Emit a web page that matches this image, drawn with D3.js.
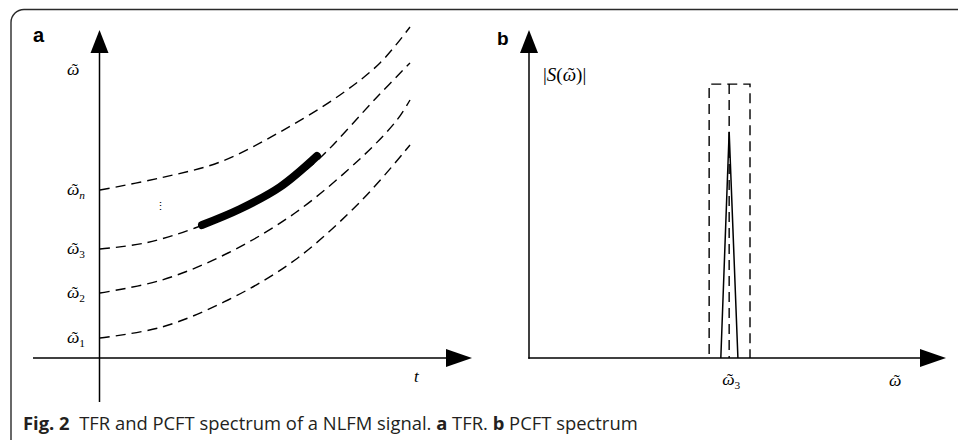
<!DOCTYPE html>
<html>
<head>
<meta charset="utf-8">
<script src="https://cdn.jsdelivr.net/npm/d3@7"></script>
<style>
  html, body { margin: 0; padding: 0; background: #fff; }
  svg { display: block; }
  .math { font-family: "Liberation Serif", "Times New Roman", "DejaVu Serif", serif; }
</style>
</head>
<body>
<svg id="chart" width="958" height="440"></svg>
<script>
// ---------------- DATA ----------------
// Panel a: time–frequency curves, [t, omega] in arbitrary units
const curveOmega1 = [[0,10],[31,15.5],[64,29],[97.5,49],[131,79],[155,106.5]];
const curveOmega2 = [[0,32.5],[31,39],[64,52.5],[97.5,72.5],[131,100.5],[148.5,119],[155,129]];
const curveOmega3 = [[0,54.5],[22.5,57.5],[47.5,65],[77.5,78],[97.5,90],[110,100],[139,131],[155,147.5]];
const curveOmegaN = [[0,84],[30,90],[60,98],[90,113],[120,131.5],[140,147.5],[155,165.5]];
const signalTrack = [[51,66.5],[70,74.5],[90,85.5],[108.5,101]];
const yTickValues = [10, 32.5, 54.5, 84];
const yTickSubs   = ["1", "2", "3", "n"];

// Panel b: PCFT spectrum, [omega, |S|]
const spectrum = [[4.60,0],[4.80,6.9],[5.01,0]];
const windowLeft = 4.32, windowRight = 5.30, windowTop = 8.35, windowCenter = 4.80;
const xTickValueB = 4.80;

const captionBold = "Fig. 2";
const captionText = "TFR and PCFT spectrum of a NLFM signal. ";

// ---------------- DRAWING ----------------
const svg = d3.select("#chart");

svg.append("path")
  .attr("d", "M958,9.5 H24 A13 13 0 0 0 11 22.5 V440")
  .attr("fill", "none").attr("stroke", "#2a2a2a").attr("stroke-width", 1.4);

function arrowUp(x, y) {
  svg.append("path").attr("d", `M${x},${y} L${x-9},${y+23} L${x+9},${y+23} Z`).attr("fill", "#000");
}
function arrowRight(x, y) {
  svg.append("path").attr("d", `M${x},${y} L${x-26},${y-9} L${x-26},${y+9} Z`).attr("fill", "#000");
}
// omega with a tilde glyph placed over it (same text element), optional subscript
function omegaLabel(g, x, y, size, sub, subItalic) {
  const t = g.append("text").attr("class", "math").attr("x", x).attr("y", y).attr("font-size", size);
  const w = t.append("tspan").attr("font-style", "italic").text("\u03C9");
  const wW = w.node().getComputedTextLength();
  const tl = t.append("tspan").text("\u02DC");
  const tW = tl.node().getComputedTextLength();
  tl.attr("dx", -(wW / 2 + tW / 2) + 1.5);
  if (sub) {
    t.append("tspan").attr("font-size", size * 0.65).attr("dx", wW / 2 - tW / 2 - 1.5)
      .attr("dy", size * 0.25).attr("font-style", subItalic ? "italic" : "normal").text(sub);
  }
  return t;
}

// ---- Panel a ----
const xA = d3.scaleLinear().domain([0, 155]).range([100, 410]);
const yA = d3.scaleLinear().domain([0, 164]).range([358, 30]);

const gA = svg.append("g");
gA.append("line").attr("x1", xA(0)-0.5).attr("x2", xA(0)-0.5).attr("y1", yA(164)+10).attr("y2", 402)
  .attr("stroke", "#000").attr("stroke-width", 1.5);
gA.append("line").attr("x1", 33).attr("x2", 455).attr("y1", yA(0)).attr("y2", yA(0))
  .attr("stroke", "#000").attr("stroke-width", 1.5);
arrowUp(xA(0)-0.5, yA(164));
arrowRight(472, yA(0));

const lineA = d3.line().x(d => xA(d[0])).y(d => yA(d[1])).curve(d3.curveCatmullRom.alpha(0.5));
[curveOmega1, curveOmega2, curveOmega3, curveOmegaN].forEach(c => {
  gA.append("path").attr("d", lineA(c)).attr("fill", "none")
    .attr("stroke", "#000").attr("stroke-width", 1.4).attr("stroke-dasharray", "10,6");
});
gA.append("path").attr("d", lineA(signalTrack)).attr("fill", "none")
  .attr("stroke", "#000").attr("stroke-width", 8).attr("stroke-linecap", "round");

yTickValues.forEach((v, i) => {
  omegaLabel(gA, 67, yA(v) + 5, 17.5, yTickSubs[i], yTickSubs[i] === "n");
});
omegaLabel(gA, 67, 75, 17.5, null, false);
gA.append("text").attr("class", "math").attr("x", 414).attr("y", 382)
  .attr("font-size", 17).attr("font-style", "italic").text("t");
gA.append("text").attr("class", "math").attr("x", 160).attr("y", 210).attr("text-anchor", "middle")
  .attr("font-size", 11).text("\u22EE");
gA.append("text").attr("x", 33).attr("y", 42).attr("font-family", "'Liberation Sans', Arial, sans-serif")
  .attr("font-weight", "bold").attr("font-size", 20).text("a");

// ---- Panel b ----
const xB = d3.scaleLinear().domain([0, 10]).range([529, 946]);
const yB = d3.scaleLinear().domain([0, 10]).range([358, 30]);
const gB = svg.append("g");
gB.append("line").attr("x1", xB(0)).attr("x2", xB(0)).attr("y1", yB(10)+10).attr("y2", yB(0)+0.7)
  .attr("stroke", "#000").attr("stroke-width", 1.5);
gB.append("line").attr("x1", xB(0)-0.7).attr("x2", 930).attr("y1", yB(0)).attr("y2", yB(0))
  .attr("stroke", "#000").attr("stroke-width", 1.5);
arrowUp(xB(0), yB(10));
arrowRight(xB(10), yB(0));

gB.append("path")
  .attr("d", `M${xB(windowLeft)},${yB(0)-4} V${yB(windowTop)} H${xB(windowRight)} V${yB(0)}`)
  .attr("fill", "none").attr("stroke", "#000").attr("stroke-width", 1.4).attr("stroke-dasharray", "10,6");
gB.append("path")
  .attr("d", `M${xB(windowCenter)},${yB(windowTop)} V${yB(0)}`)
  .attr("fill", "none").attr("stroke", "#000").attr("stroke-width", 1.4).attr("stroke-dasharray", "10,6");
const lineB = d3.line().x(d => xB(d[0])).y(d => yB(d[1]));
gB.append("path").attr("d", lineB(spectrum)).attr("fill", "none")
  .attr("stroke", "#000").attr("stroke-width", 1.5);

omegaLabel(gB, xB(xTickValueB) - 7, 385, 17.5, "3", false);
omegaLabel(gB, 889, 386, 17.5, null, false);

// |S(omega~)|
const sl = gB.append("text").attr("class", "math").attr("x", 543).attr("y", 81).attr("font-size", 19);
sl.append("tspan").text("|");
sl.append("tspan").attr("font-style", "italic").text("S");
sl.append("tspan").text("(");
const wsp = sl.append("tspan").attr("font-style", "italic").text("\u03C9");
const wspW = wsp.node().getComputedTextLength();
const slt = sl.append("tspan").text("\u02DC");
const sltW = slt.node().getComputedTextLength();
slt.attr("dx", -(wspW / 2 + sltW / 2) + 1.5);
sl.append("tspan").attr("dx", wspW / 2 - sltW / 2 - 1.5).text(")|");

gB.append("text").attr("x", 497).attr("y", 45).attr("font-family", "'Liberation Sans', Arial, sans-serif")
  .attr("font-weight", "bold").attr("font-size", 19).text("b");

// ---- caption ----
const cap = svg.append("text").attr("x", 23).attr("y", 430)
  .attr("font-family", "'Open Sans', sans-serif").attr("font-size", 18.4).attr("fill", "#231f20");
cap.append("tspan").attr("font-weight", "bold").text(captionBold + "\u00A0\u00A0");
cap.append("tspan").text(captionText);
cap.append("tspan").attr("font-weight", "bold").text("a");
cap.append("tspan").text(" TFR. ");
cap.append("tspan").attr("font-weight", "bold").text("b");
cap.append("tspan").text(" PCFT spectrum");
</script>
</body>
</html>
